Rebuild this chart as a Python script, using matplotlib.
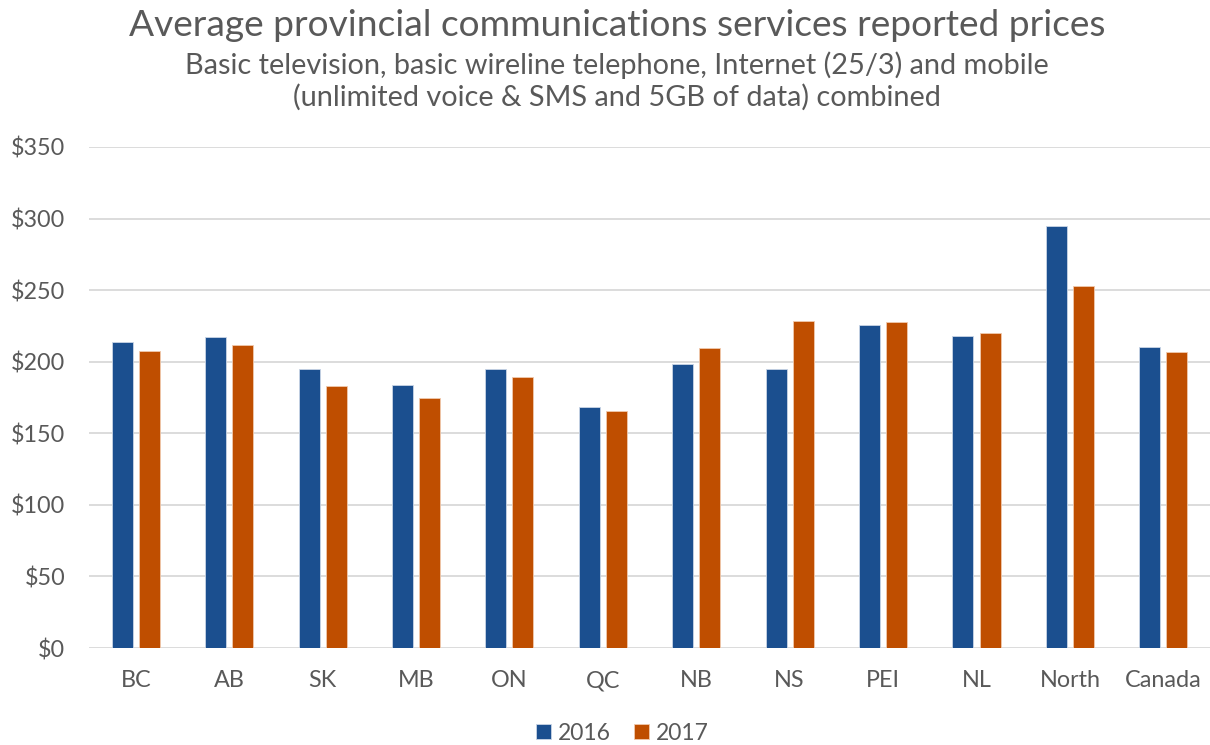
import matplotlib.pyplot as plt
import numpy as np

# average reported prices by province/territory, dollars per month
regions = ["BC", "AB", "SK", "MB", "ON", "QC", "NB", "NS", "PEI", "NL", "North", "Canada"]
prices_2016 = [214, 217, 195, 184, 195, 168.5, 198.5, 195, 225.5, 218, 294.5, 210]
prices_2017 = [207.5, 211.5, 183, 174.5, 189, 165.5, 209.5, 228.5, 227.5, 220, 253, 206.5]
years = ["2016", "2017"]

plt.rcParams['font.family'] = ['Lato', 'DejaVu Sans']
grey = '#595959'

fig = plt.figure(figsize=(12.1, 7.45), dpi=100)
ax = fig.add_axes([0.0736, 0.1302, 0.9264, 0.6725])

x = np.arange(len(regions))
w = 0.225
ax.bar(x - 0.145, prices_2016, w, color='#1b4f8f', edgecolor='#c9d5e6', linewidth=0.6, label=years[0], zorder=3)
ax.bar(x + 0.145, prices_2017, w, color='#bf4e00', edgecolor='#f0c9ad', linewidth=0.6, label=years[1], zorder=3)

ax.set_xlim(-0.5, len(regions) - 0.5)
ax.set_ylim(0, 350)
ax.set_yticks(range(0, 351, 50))
ax.set_yticklabels(["$" + str(v) for v in range(0, 351, 50)])
ax.set_xticks(x)
ax.set_xticklabels(regions)
ax.tick_params(axis='both', length=0, colors=grey, labelsize=16.8)
ax.tick_params(axis='y', pad=17)
ax.tick_params(axis='x', pad=16)
ax.grid(axis='y', color='#d9d9d9', linewidth=1.3, zorder=0)
for s in ax.spines.values():
    s.set_visible(False)

fig.text(0.51, 0.966, "Average provincial communications services reported prices",
         ha='center', va='center', fontsize=26.7, color=grey)
fig.text(0.51, 0.891, "Basic television, basic wireline telephone, Internet (25/3) and mobile\n"
         "(unlimited voice & SMS and 5GB of data) combined",
         ha='center', va='center', fontsize=20.8, color=grey, linespacing=1.2)

fig.legend(loc='center', bbox_to_anchor=(0.5145, 0.016), ncol=2, frameon=False,
           fontsize=16.5, labelcolor=grey, handlelength=0.65, handleheight=0.65,
           handletextpad=0.3, columnspacing=1.0)

fig.savefig("out.png", dpi=100)
